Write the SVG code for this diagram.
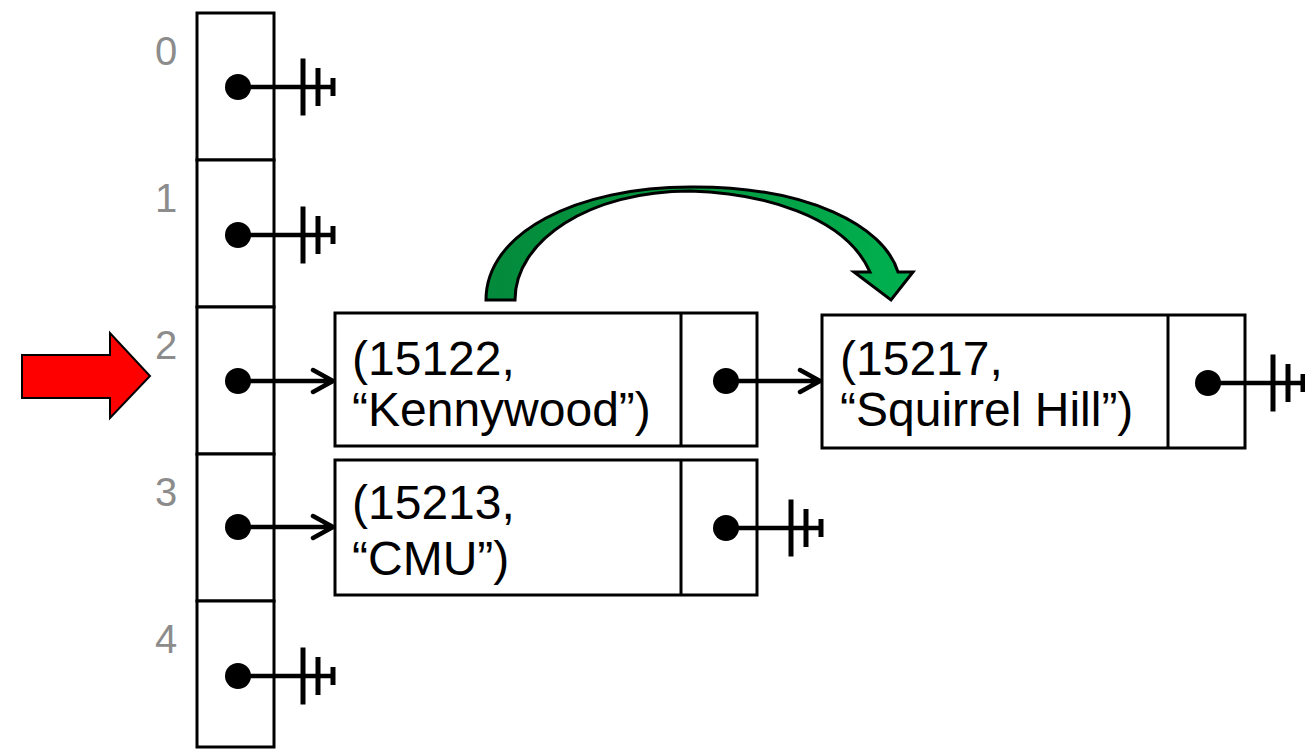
<svg xmlns="http://www.w3.org/2000/svg" width="1305" height="749" viewBox="0 0 1305 749">
<style>
.cell{fill:#fff;stroke:#000;stroke-width:3}
.box{fill:#fff;stroke:#000;stroke-width:3}
.idx{font-family:"Liberation Sans",Arial,sans-serif;font-size:40px;fill:#8c8c8c;text-anchor:middle}
.t{font-family:"Liberation Sans",Arial,sans-serif;font-size:48px;fill:#000}
.dot{fill:#000}
.ln{stroke:#000;stroke-width:4.5;fill:none;stroke-linecap:round;stroke-linejoin:round}
.div{stroke:#000;stroke-width:3}
.bar{stroke:#000;stroke-width:5}
</style>
<defs>
<linearGradient id="gr" x1="0" y1="0" x2="1" y2="0">
<stop offset="0" stop-color="#038a3b"/>
<stop offset="0.45" stop-color="#05993f"/>
<stop offset="1" stop-color="#00b050"/>
</linearGradient>
<g id="gnd">
<line class="ln" x1="0" y1="0" x2="95" y2="0" style="stroke-linecap:butt"/>
<line class="bar" x1="65" y1="-28.5" x2="65" y2="28.5"/>
<line class="bar" x1="80" y1="-19" x2="80" y2="19"/>
<line class="bar" x1="95" y1="-9" x2="95" y2="9"/>
<circle class="dot" cx="0" cy="0" r="13"/>
</g>
</defs>
<rect width="1305" height="749" fill="#fff"/>

<g id="array">
<rect class="cell" x="197" y="13" width="77" height="147"/>
<rect class="cell" x="197" y="160" width="77" height="147"/>
<rect class="cell" x="197" y="307" width="77" height="147"/>
<rect class="cell" x="197" y="454" width="77" height="147"/>
<rect class="cell" x="197" y="601" width="77" height="146"/>
<text class="idx" x="166" y="65">0</text>
<text class="idx" x="166" y="212">1</text>
<text class="idx" x="166" y="359">2</text>
<text class="idx" x="166" y="506">3</text>
<text class="idx" x="166" y="653">4</text>
<use href="#gnd" x="238" y="87"/>
<use href="#gnd" x="238" y="235"/>
<circle class="dot" cx="238" cy="381" r="13"/>
<circle class="dot" cx="238" cy="527" r="13"/>
<use href="#gnd" x="238" y="676"/>
</g>

<g id="node-kennywood">
<rect class="box" x="335" y="313" width="422" height="133"/>
<line class="div" x1="681" y1="313" x2="681" y2="446"/>
<text class="t" x="352" y="375">(15122,</text>
<text class="t" x="352" y="426">“Kennywood”)</text>
<circle class="dot" cx="726" cy="381" r="13"/>
</g>

<g id="node-cmu">
<rect class="box" x="335" y="460" width="422" height="135"/>
<line class="div" x1="681" y1="460" x2="681" y2="595"/>
<text class="t" x="352" y="519">(15213,</text>
<text class="t" x="352" y="575">“CMU”)</text>
<use href="#gnd" x="726" y="528"/>
</g>

<g id="node-squirrel">
<rect class="box" x="822" y="315" width="423" height="133"/>
<line class="div" x1="1168" y1="315" x2="1168" y2="448"/>
<text class="t" x="840" y="375">(15217,</text>
<text class="t" x="840" y="426">“Squirrel Hill”)</text>
<use href="#gnd" x="1208" y="383"/>
</g>

<g id="red-arrow">
<polygon points="22,355 110,355 110,333 150,376 110,418 110,398 22,398" fill="#ff0000" stroke="#000" stroke-width="2"/>
</g>

<g id="green-arrow">
<path d="M486,300 C486,232 578,187 690,187 C808,186 884,226 898,272 L913,272 L891,300 L854,272 L870,272 C845,215 760,193 690,191 C590,191 515,240 515,300 Z" fill="url(#gr)" stroke="#000" stroke-width="3" stroke-linejoin="miter"/>
</g>

<g id="connectors">
<path class="ln" d="M238,381 H333 M313,370 L333,381 L313,392"/>
<path class="ln" d="M238,527 H333 M313,516 L333,527 L313,538"/>
<path class="ln" d="M726,381 H820 M800,370 L820,381 L800,392"/>
</g>
</svg>
